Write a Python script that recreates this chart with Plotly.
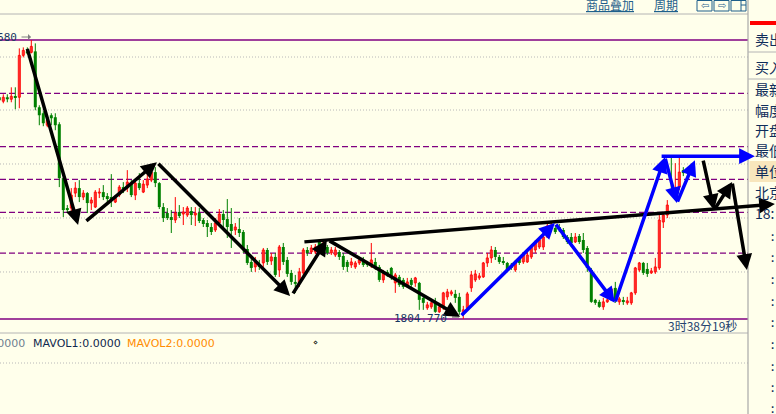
import plotly.graph_objects as go

W, H = 776, 414
BG = "#FFFFEB"
RED = "#FF0000"
GREEN = "#008000"
PURPLE = "#800080"
GRID = "#b8b8b8"
NAVY = "#16355f"
LINK = "#1f5f8b"

def px(x):
    return x / W

def py(y):
    return 1 - y / H

# ---------------- data ----------------
idx = list(range(-1, 171))
opens = [
    1849.2, 1848.4, 1849.2, 1848.8, 1849.4, 1849.2, 1857.6, 1858.4, 1858.2, 1858.4,
    1847.2, 1846.0, 1843.6, 1845.6, 1845.2, 1843.8, 1833.0, 1827.0, 1827.0, 1830.0,
    1831.0, 1829.2, 1830.0, 1828.0, 1827.2, 1830.0, 1830.2, 1829.4, 1829.2, 1828.2,
    1829.6, 1831.2, 1831.0, 1832.0, 1829.6, 1832.0, 1830.2, 1831.6, 1832.6, 1834.2,
    1832.0, 1827.2, 1826.0, 1825.2, 1824.6, 1826.2, 1825.8, 1825.6, 1826.4, 1825.6,
    1826.0, 1824.6, 1824.0, 1823.2, 1822.6, 1824.0, 1825.8, 1824.8, 1823.8, 1822.6,
    1822.8, 1822.2, 1818.8, 1816.2, 1815.2, 1815.8, 1816.0, 1818.6, 1816.4, 1817.2,
    1814.6, 1819.2, 1816.6, 1814.0, 1812.2, 1812.0, 1814.0, 1818.6, 1818.2, 1818.2,
    1820.2, 1819.2, 1819.2, 1818.0, 1817.6, 1818.2, 1817.4, 1816.2, 1815.6, 1815.2,
    1816.0, 1816.6, 1816.0, 1815.6, 1816.2, 1815.2, 1812.6, 1814.2, 1815.0, 1812.0,
    1813.2, 1812.6, 1811.6, 1812.6, 1812.0, 1812.0, 1809.0, 1807.0, 1807.2, 1808.0,
    1806.2, 1807.2, 1809.2, 1809.8, 1809.8, 1809.2, 1805.8, 1807.0, 1811.0, 1812.6,
    1813.0, 1813.2, 1816.0, 1817.0, 1818.6, 1817.2, 1816.2, 1816.0, 1815.6, 1814.6,
    1816.8, 1816.2, 1816.2, 1817.2, 1818.6, 1819.2, 1819.2, 1821.2, 1823.0, 1823.0,
    1823.2, 1822.6, 1821.2, 1821.2, 1820.2, 1821.4, 1820.6, 1819.0, 1814.6, 1808.6,
    1808.2, 1807.2, 1808.2, 1809.2, 1811.0, 1808.2, 1808.4, 1808.0, 1808.0, 1810.0,
    1814.6, 1816.0, 1814.8, 1814.0, 1814.2, 1815.0, 1824.2, 1825.6, 1830.6, 1830.2,
    1831.2, 1834.6,
]
highs = [
    1849.6, 1849.8, 1849.8, 1851.2, 1851.2, 1859.0, 1859.2, 1859.2, 1860.68, 1860.0,
    1847.6, 1846.4, 1845.4, 1846.0, 1846.0, 1844.2, 1833.2, 1827.6, 1831.0, 1832.2,
    1832.6, 1830.6, 1830.2, 1829.2, 1830.6, 1831.0, 1831.6, 1830.0, 1833.8, 1829.6,
    1831.6, 1832.2, 1834.6, 1832.6, 1832.6, 1834.0, 1832.6, 1834.0, 1835.0, 1835.2,
    1832.2, 1828.0, 1827.0, 1826.6, 1829.2, 1827.6, 1827.2, 1827.4, 1827.2, 1827.2,
    1827.0, 1825.0, 1824.6, 1824.0, 1825.0, 1826.8, 1826.6, 1828.8, 1827.0, 1824.0,
    1825.0, 1822.6, 1819.6, 1817.2, 1817.2, 1816.6, 1819.0, 1819.0, 1818.0, 1818.0,
    1819.6, 1820.0, 1817.2, 1814.6, 1813.6, 1815.0, 1819.0, 1819.2, 1819.6, 1819.8,
    1820.8, 1820.8, 1819.6, 1819.2, 1819.2, 1818.6, 1818.0, 1816.6, 1817.0, 1816.4,
    1817.0, 1817.2, 1816.4, 1820.0, 1817.0, 1815.6, 1814.6, 1814.6, 1815.2, 1814.0,
    1813.6, 1813.0, 1813.0, 1813.0, 1813.2, 1812.2, 1809.2, 1808.2, 1808.4, 1809.0,
    1808.0, 1810.2, 1810.8, 1810.6, 1810.6, 1810.0, 1807.4, 1810.2, 1814.4, 1814.6,
    1814.0, 1816.2, 1818.0, 1819.4, 1819.2, 1817.6, 1817.2, 1816.2, 1816.0, 1816.6,
    1817.2, 1818.0, 1818.2, 1819.6, 1820.6, 1821.0, 1821.6, 1824.0, 1824.2, 1823.6,
    1823.8, 1823.0, 1821.6, 1822.0, 1822.0, 1821.8, 1822.0, 1819.4, 1815.0, 1808.8,
    1808.6, 1809.0, 1809.0, 1811.2, 1812.2, 1809.2, 1809.2, 1809.2, 1810.2, 1815.2,
    1816.2, 1816.2, 1816.0, 1815.0, 1817.0, 1825.6, 1826.0, 1828.6, 1837.2, 1836.0,
    1837.2, 1835.2,
]
lows = [
    1848.2, 1848.0, 1848.2, 1848.2, 1846.8, 1847.0, 1857.2, 1857.8, 1858.0, 1846.6,
    1843.6, 1843.4, 1843.2, 1843.6, 1842.6, 1831.2, 1825.2, 1826.0, 1826.0, 1829.2,
    1828.2, 1828.6, 1826.0, 1826.6, 1827.0, 1829.0, 1828.6, 1828.2, 1827.2, 1828.0,
    1829.2, 1830.0, 1830.2, 1829.2, 1828.6, 1830.6, 1830.0, 1831.0, 1832.2, 1831.2,
    1826.8, 1824.2, 1824.6, 1822.0, 1824.0, 1825.0, 1823.6, 1825.2, 1823.6, 1823.4,
    1824.0, 1823.2, 1821.2, 1821.6, 1822.2, 1823.6, 1823.2, 1821.0, 1819.0, 1821.6,
    1821.2, 1818.0, 1815.6, 1814.2, 1814.2, 1814.6, 1815.2, 1815.6, 1815.6, 1813.2,
    1813.2, 1815.6, 1813.2, 1811.6, 1810.0, 1811.2, 1813.2, 1817.4, 1817.8, 1817.8,
    1818.6, 1819.0, 1817.6, 1817.6, 1817.2, 1816.6, 1814.6, 1814.2, 1815.0, 1814.8,
    1815.6, 1815.2, 1815.2, 1815.0, 1814.6, 1812.2, 1812.0, 1813.2, 1812.6, 1810.0,
    1811.2, 1810.8, 1811.0, 1811.2, 1811.2, 1806.6, 1806.6, 1806.6, 1806.8, 1806.0,
    1806.0, 1806.6, 1808.6, 1809.4, 1808.0, 1805.6, 1804.77, 1806.4, 1810.2, 1812.2,
    1812.6, 1813.0, 1815.2, 1816.0, 1816.6, 1815.8, 1815.6, 1814.2, 1814.6, 1814.2,
    1815.6, 1815.8, 1816.0, 1816.8, 1818.0, 1818.8, 1818.6, 1821.0, 1822.6, 1821.8,
    1822.2, 1820.8, 1819.8, 1819.2, 1820.0, 1819.8, 1818.0, 1814.2, 1808.0, 1807.6,
    1807.0, 1806.6, 1808.0, 1808.6, 1808.0, 1807.6, 1807.6, 1807.6, 1807.6, 1809.6,
    1814.2, 1813.6, 1813.2, 1813.8, 1813.8, 1814.6, 1823.0, 1825.0, 1829.6, 1829.8,
    1830.6, 1833.4,
]
closes = [
    1848.6, 1849.2, 1848.8, 1849.4, 1849.2, 1857.6, 1858.6, 1858.0, 1859.4, 1847.2,
    1845.6, 1844.0, 1844.6, 1845.0, 1843.6, 1833.0, 1826.6, 1826.6, 1829.6, 1831.0,
    1829.2, 1830.0, 1828.0, 1828.6, 1830.2, 1830.2, 1829.2, 1829.0, 1829.0, 1829.0,
    1831.2, 1830.6, 1832.2, 1829.6, 1832.0, 1831.0, 1831.8, 1832.8, 1834.2, 1832.0,
    1827.2, 1825.0, 1825.0, 1824.8, 1826.0, 1825.4, 1826.2, 1827.0, 1825.6, 1826.0,
    1824.4, 1823.8, 1823.2, 1822.2, 1824.0, 1825.8, 1824.6, 1823.2, 1822.4, 1823.2,
    1822.0, 1818.8, 1816.0, 1815.0, 1816.2, 1815.2, 1818.6, 1816.2, 1817.2, 1813.6,
    1819.2, 1816.2, 1813.8, 1812.2, 1811.8, 1814.2, 1818.6, 1818.0, 1819.0, 1819.2,
    1819.2, 1820.0, 1818.0, 1818.6, 1818.6, 1817.2, 1815.2, 1815.2, 1816.2, 1816.0,
    1816.6, 1815.6, 1815.6, 1816.6, 1815.2, 1812.6, 1814.0, 1813.6, 1813.2, 1813.6,
    1811.6, 1811.2, 1812.2, 1811.6, 1813.0, 1808.6, 1808.0, 1807.6, 1808.0, 1806.2,
    1807.2, 1810.0, 1810.2, 1810.2, 1809.0, 1806.2, 1806.6, 1809.8, 1813.6, 1813.8,
    1813.4, 1816.0, 1817.0, 1818.6, 1817.2, 1816.2, 1816.0, 1814.6, 1815.0, 1816.2,
    1816.0, 1817.6, 1817.6, 1819.2, 1820.0, 1820.6, 1821.2, 1823.4, 1823.6, 1822.2,
    1822.6, 1821.2, 1820.2, 1820.0, 1821.2, 1820.2, 1818.6, 1815.0, 1808.2, 1808.0,
    1807.2, 1808.2, 1808.6, 1810.8, 1808.6, 1808.8, 1808.2, 1808.4, 1810.0, 1815.0,
    1816.0, 1814.0, 1813.8, 1814.4, 1815.2, 1824.6, 1825.6, 1827.6, 1830.0, 1830.8,
    1834.2, 1834.0,
]

high_price = 1860.68
low_price = 1804.77
high_label = "1860.680"
low_label = "1804.770"
golden_levels = [1817.96, 1826.13, 1832.73, 1839.32, 1850.00]
grid_levels = [1814.19, 1825.01, 1835.83, 1846.65, 1857.27]

# hand-drawn trend arrows (tail -> head), in bar index / price units
black_tail_x = [5.9, 20.4, 38.4, 72.2, 81.2, 74.9, 174.9, 177.7, 182.2]
black_tail_y = [1859.2, 1824.2, 1836.2, 1809.6, 1820.6, 1820.2, 1836.8, 1826.6, 1832.2]
black_head_x = [18.7, 38.4, 71.7, 80.9, 114.2, 192.9, 177.7, 182.2, 185.9]
black_head_y = [1823.6, 1836.2, 1809.4, 1820.6, 1805.2, 1827.8, 1826.6, 1832.2, 1814.6]
blue_tail_x = [114.2, 137.9, 152.9, 165.4, 168.4, 164.2]
blue_tail_y = [1805.2, 1824.0, 1808.0, 1837.2, 1828.0, 1837.4]
blue_head_x = [137.9, 152.9, 165.4, 168.4, 172.9, 187.9]
blue_head_y = [1824.0, 1808.0, 1837.2, 1828.0, 1836.6, 1837.4]

panel_labels = ["卖出", "买入", "最新", "幅度", "开盘", "最低", "单位", "北京", "18:"]
panel_label_y = [39, 67, 89, 110, 130, 150, 171, 192, 213]
panel_colon_y = [237, 258, 280, 302, 323, 345, 367, 388, 409]
countdown = "3时38分19秒"
vol_texts = ["VOL:0.0000", "MAVOL1:0.0000", "MAVOL2:0.0000"]

# ---------------- figure ----------------
X_RANGE = [-0.825, 193.175]
Y_RANGE = [1801.96, 1865.89]

up = [i for i in range(len(idx)) if closes[i] >= opens[i]]
dn = [i for i in range(len(idx)) if closes[i] < opens[i]]


def wicks(ids):
    xs, ys = [], []
    for i in ids:
        xs += [idx[i], idx[i], None]
        ys += [lows[i], highs[i], None]
    return xs, ys


fig = go.Figure()
for ids, col in ((up, RED), (dn, GREEN)):
    xs, ys = wicks(ids)
    fig.add_trace(go.Scatter(x=xs, y=ys, mode="lines", line=dict(color=col, width=1),
                             hoverinfo="skip", showlegend=False))

fig.add_trace(go.Bar(
    x=[idx[i] for i in dn],
    base=[closes[i] for i in dn],
    y=[max(opens[i] - closes[i], 0.2) for i in dn],
    width=0.75, marker=dict(color=GREEN, line=dict(width=0)), showlegend=False))
fig.add_trace(go.Bar(
    x=[idx[i] for i in up],
    base=[opens[i] for i in up],
    y=[max(closes[i] - opens[i], 0.2) for i in up],
    width=0.5, marker=dict(color=BG, line=dict(color=RED, width=1)), showlegend=False))

shapes = []
XR = px(748)
for lv in grid_levels:
    shapes.append(dict(type="line", xref="paper", yref="y", x0=0, x1=XR, y0=lv, y1=lv,
                       line=dict(color=GRID, width=1, dash="1px,2px"), layer="below"))
for lv in golden_levels:
    shapes.append(dict(type="line", xref="paper", yref="y", x0=0, x1=XR, y0=lv, y1=lv,
                       line=dict(color=PURPLE, width=1.2, dash="6px,3px"), layer="below"))
for lv in (high_price, low_price):
    shapes.append(dict(type="line", xref="paper", yref="y", x0=0, x1=XR, y0=lv, y1=lv,
                       line=dict(color=PURPLE, width=1.3), layer="below"))
# frame lines
shapes += [
    dict(type="line", xref="paper", yref="paper", x0=0, x1=XR, y0=py(14), y1=py(14),
         line=dict(color="#b4b4b4", width=1)),
    dict(type="line", xref="paper", yref="paper", x0=0, x1=XR, y0=py(333), y1=py(333),
         line=dict(color="#b4b4b4", width=1)),
    dict(type="line", xref="paper", yref="paper", x0=0, x1=XR, y0=py(363), y1=py(363),
         line=dict(color=GRID, width=1, dash="1px,2px")),
    dict(type="line", xref="paper", yref="paper", x0=XR, x1=XR, y0=0, y1=1,
         line=dict(color="#a8a8a8", width=1.2)),
    dict(type="rect", xref="paper", yref="paper", x0=px(750), x1=1, y0=py(25), y1=py(21),
         fillcolor=RED, line=dict(width=0)),
    dict(type="line", xref="paper", yref="paper", x0=XR, x1=1, y0=py(52), y1=py(52),
         line=dict(color="#b4b4b4", width=1)),
    dict(type="line", xref="paper", yref="paper", x0=XR, x1=1, y0=py(79), y1=py(79),
         line=dict(color="#b4b4b4", width=1)),
    dict(type="rect", xref="paper", yref="paper", x0=px(749.5), x1=1, y0=py(182), y1=py(161),
         fillcolor="#F8E6BC", line=dict(width=0), layer="below"),
    dict(type="line", xref="paper", yref="paper", x0=px(452), x1=px(459), y0=py(317), y1=py(317),
         line=dict(color="#555555", width=1)),
]
# top-bar icon boxes
for (a, b) in ((697, 712), (714, 729), (731, 746)):
    shapes.append(dict(type="rect", xref="paper", yref="paper", x0=px(a), x1=px(b),
                       y0=py(11), y1=py(0.5), line=dict(color=LINK, width=1)))
shapes.append(dict(type="line", xref="paper", yref="paper", x0=px(741), x1=px(741),
                   y0=py(11), y1=py(0.5), line=dict(color=LINK, width=1)))
shapes.append(dict(type="line", xref="paper", yref="paper", x0=px(741), x1=px(746),
                   y0=py(5), y1=py(5), line=dict(color=LINK, width=1)))

ann = []
for tx, ty, hx, hy in zip(black_tail_x, black_tail_y, black_head_x, black_head_y):
    ann.append(dict(x=hx, y=hy, ax=tx, ay=ty, xref="x", yref="y", axref="x", ayref="y",
                    text="", showarrow=True, arrowhead=2, arrowsize=0.9, arrowwidth=3.5,
                    arrowcolor="#000000", standoff=0))
for tx, ty, hx, hy in zip(blue_tail_x, blue_tail_y, blue_head_x, blue_head_y):
    ann.append(dict(x=hx, y=hy, ax=tx, ay=ty, xref="x", yref="y", axref="x", ayref="y",
                    text="", showarrow=True, arrowhead=2, arrowsize=0.9, arrowwidth=3.5,
                    arrowcolor="#0000FF", standoff=0))

MONO = "DejaVu Sans Mono"
CJK = "Noto Sans CJK SC"
ann.append(dict(x=px(18.5), y=py(38), xref="paper", yref="paper", text=high_label,
                xanchor="right", yanchor="middle", showarrow=False,
                font=dict(family=MONO, size=11, color=NAVY)))
ann.append(dict(x=px(31), y=py(37), xref="paper", yref="paper", ax=-11, ay=0, text="",
                showarrow=True, arrowhead=1, arrowsize=1, arrowwidth=1, arrowcolor="#808080"))
ann.append(dict(x=px(449), y=py(318), xref="paper", yref="paper", text=low_label,
                xanchor="right", yanchor="middle", showarrow=False,
                font=dict(family=MONO, size=11, color=NAVY)))
ann.append(dict(x=px(666), y=py(325), xref="paper", yref="paper", text=countdown,
                xanchor="left", yanchor="middle", showarrow=False,
                font=dict(family=CJK, size=12, color="#26446f")))
ann.append(dict(x=px(584), y=py(4), xref="paper", yref="paper", text="<u>商品叠加</u>",
                xanchor="left", yanchor="middle", showarrow=False,
                font=dict(family=CJK, size=12, color=LINK)))
ann.append(dict(x=px(652), y=py(4), xref="paper", yref="paper", text="<u>周期</u>",
                xanchor="left", yanchor="middle", showarrow=False,
                font=dict(family=CJK, size=12, color=LINK)))
ann.append(dict(x=px(704.5), y=py(5.5), xref="paper", yref="paper", text="⇦",
                xanchor="center", yanchor="middle", showarrow=False,
                font=dict(family="DejaVu Sans", size=10, color=LINK)))
ann.append(dict(x=px(721.5), y=py(5.5), xref="paper", yref="paper", text="⇨",
                xanchor="center", yanchor="middle", showarrow=False,
                font=dict(family="DejaVu Sans", size=10, color=LINK)))
for lab, yy in zip(panel_labels, panel_label_y):
    ann.append(dict(x=px(753), y=py(yy), xref="paper", yref="paper", text=lab,
                    xanchor="left", yanchor="middle", showarrow=False,
                    font=dict(family=CJK, size=14, color="#0f2d5a")))
for yy in panel_colon_y:
    ann.append(dict(x=px(772), y=py(yy), xref="paper", yref="paper", text=":",
                    xanchor="center", yanchor="middle", showarrow=False,
                    font=dict(family=MONO, size=12, color="#0f2d5a")))
ann.append(dict(x=px(27), y=py(343), xref="paper", yref="paper", text=vol_texts[0],
                xanchor="right", yanchor="middle", showarrow=False,
                font=dict(family="DejaVu Sans", size=11, color="#6f7f90")))
ann.append(dict(x=px(31), y=py(343), xref="paper", yref="paper", text=vol_texts[1],
                xanchor="left", yanchor="middle", showarrow=False,
                font=dict(family="DejaVu Sans", size=11, color="#10284e")))
ann.append(dict(x=px(125), y=py(343), xref="paper", yref="paper", text=vol_texts[2],
                xanchor="left", yanchor="middle", showarrow=False,
                font=dict(family="DejaVu Sans", size=11, color="#FF8C00")))
ann.append(dict(x=px(315), y=py(342), xref="paper", yref="paper", text="⋄",
                xanchor="center", yanchor="middle", showarrow=False,
                font=dict(family="DejaVu Sans", size=8, color="#000000")))

fig.update_layout(
    width=W, height=H,
    margin=dict(l=0, r=0, t=0, b=0),
    paper_bgcolor=BG, plot_bgcolor=BG,
    barmode="overlay",
    showlegend=False,
    xaxis=dict(range=X_RANGE, domain=[0, 1], visible=False, fixedrange=True),
    yaxis=dict(range=Y_RANGE, domain=[py(333), py(14)], visible=False, fixedrange=True),
    shapes=shapes,
    annotations=ann,
)

fig.write_html(
    "out.html",
    config={"displayModeBar": False},
    post_script="document.body.style.margin='0';document.body.style.overflow='hidden';",
)
